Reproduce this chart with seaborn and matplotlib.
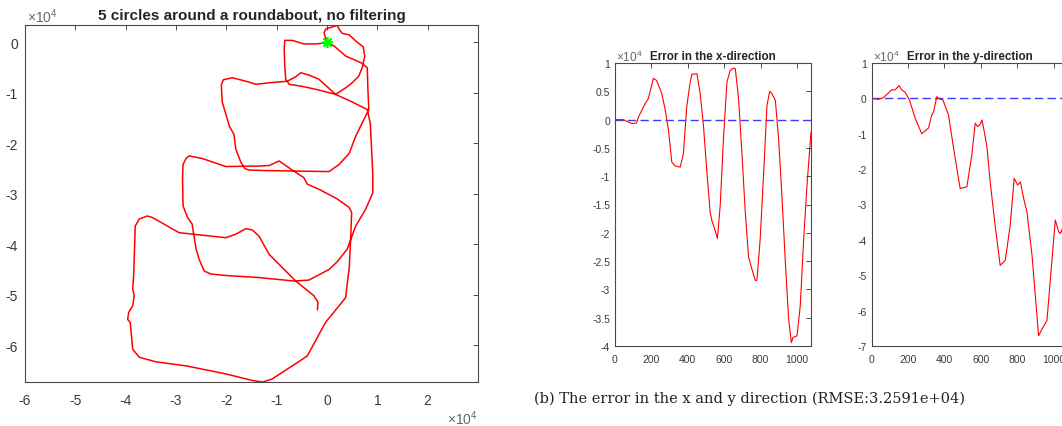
import matplotlib
matplotlib.use("Agg")
import matplotlib.pyplot as plt
import pandas as pd
import seaborn as sns

sns.set_style("white")
plt.rcParams['font.family'] = ['Liberation Sans', 'DejaVu Sans']
plt.rcParams['axes.unicode_minus'] = False
plt.rcParams['mathtext.fontset'] = 'custom'
plt.rcParams['mathtext.rm'] = 'Liberation Sans'

# Estimated trajectory (units of 1e4), in driving order
path_x = [0.00, -0.06, -0.02, 0.12, 0.20, 0.25, 0.30, 0.44, 0.57, 0.72, 0.75, 0.70, 0.63, 0.50, 0.37, 0.17,
          -0.22, -0.50, -0.75, -0.82, -0.84, -0.85, -0.84, -0.69, -0.46, -0.22, 0.00, 0.14, 0.37, 0.67, 0.80,
          0.81, 0.83, 0.57, 0.44, 0.24, 0.04, -0.60, -1.20, -1.55, -1.63, -1.71, -1.81, -1.85, -1.94, -2.00,
          -2.08, -2.10, -2.06, -1.88, -1.61, -1.41, -1.15, -0.79, -0.62, -0.52, -0.35, -0.16, 0.17, 0.50, 0.80,
          0.86, 0.89, 0.91, 0.91, 0.77, 0.57, 0.40, 0.20, 0.04, -0.13, -0.36, -0.65, -1.35, -2.00, -2.31, -2.44,
          -2.54, -2.60, -2.68, -2.77, -2.86, -2.87, -2.86, -2.80, -2.74, -2.48, -2.01, -1.35, -1.15, -0.95, -0.72,
          -0.46, -0.39, -0.16, 0.20, 0.44, 0.49, 0.47, 0.44, 0.42, 0.37, 0.24, -0.03, -0.39, -0.49, -0.89, -1.09,
          -1.28, -1.48, -2.01, -2.80, -3.40, -3.73, -3.86, -3.91, -3.96, -3.94, -3.86, -3.83, -3.86, -3.84, -3.83,
          -3.81, -3.73, -3.57, -3.47, -2.94, -2.67, -2.01, -1.81, -1.61, -1.48, -1.35, -1.15, -0.89, -0.62, -0.26,
          -0.18, -0.19]
path_y = [0.00, 0.19, 0.27, 0.31, 0.34, 0.25, 0.18, 0.15, 0.03, -0.09, -0.27, -0.50, -0.67, -0.80, -0.90, -1.03,
          -0.93, -0.87, -0.83, -0.73, -0.44, -0.15, 0.04, 0.04, -0.03, -0.03, -0.01, -0.07, -0.27, -0.40, -0.50,
          -0.86, -1.33, -1.86, -2.20, -2.42, -2.56, -2.55, -2.54, -2.53, -2.50, -2.38, -2.12, -1.82, -1.66, -1.45,
          -1.19, -0.85, -0.74, -0.70, -0.77, -0.83, -0.80, -0.77, -0.68, -0.60, -0.65, -0.73, -1.03, -1.18, -1.33,
          -1.60, -2.18, -2.60, -2.98, -3.30, -3.64, -4.10, -4.35, -4.50, -4.59, -4.71, -4.73, -4.66, -4.62, -4.59,
          -4.53, -4.30, -4.10, -3.60, -3.47, -3.24, -2.70, -2.42, -2.30, -2.25, -2.30, -2.46, -2.45, -2.44, -2.35,
          -2.51, -2.68, -2.81, -2.91, -3.10, -3.27, -3.37, -3.90, -4.50, -4.63, -5.06, -5.22, -5.55, -6.21, -6.28,
          -6.54, -6.67, -6.73, -6.70, -6.57, -6.41, -6.33, -6.24, -6.08, -5.55, -5.49, -5.35, -5.22, -5.02, -4.89,
          -4.60, -4.30, -3.64, -3.50, -3.44, -3.47, -3.77, -3.80, -3.87, -3.80, -3.69, -3.72, -3.84, -4.20, -4.46,
          -4.73, -5.02, -5.15, -5.30]

# Position error along x (units of 1e4) versus sample index
errx_t = [0, 46, 92, 119, 128, 165, 183, 211, 229, 257, 275, 294, 312, 330, 358, 376, 394, 413, 422, 450,
          468, 486, 505, 523, 532, 550, 563, 578, 596, 615, 633, 651, 661, 679, 697, 716, 734, 752, 771, 780,
          798, 817, 835, 850, 862, 881, 899, 917, 936, 954, 969, 978, 1000, 1018, 1037, 1055, 1077]
errx_v = [0.0, 0.0, -0.07, -0.06, 0.04, 0.28, 0.37, 0.73, 0.69, 0.46, 0.19, -0.19, -0.75, -0.82, -0.84, -0.60,
          0.22, 0.66, 0.80, 0.81, 0.46, -0.10, -0.93, -1.64, -1.78, -1.96, -2.10, -1.52, -0.34, 0.66, 0.87, 0.91,
          0.90, 0.37, -0.57, -1.64, -2.43, -2.64, -2.84, -2.84, -2.10, -0.93, 0.25, 0.50, 0.46, 0.34, -0.34,
          -1.34, -2.52, -3.52, -3.94, -3.85, -3.82, -3.29, -2.10, -1.16, -0.22]

# Position error along y (units of 1e4) versus sample index
erry_t = [0, 37, 64, 110, 128, 150, 165, 183, 207, 239, 275, 312, 330, 339, 358, 372, 391, 422, 450, 486,
          523, 550, 569, 582, 596, 606, 615, 633, 651, 679, 706, 734, 761, 783, 802, 817, 835, 853, 881, 899,
          917, 936, 963, 985, 1009, 1028, 1037, 1046, 1055, 1066, 1077]
erry_v = [0.0, -0.03, 0.02, 0.24, 0.24, 0.36, 0.24, 0.18, -0.04, -0.56, -1.00, -0.84, -0.47, -0.39, 0.05, -0.02,
          -0.04, -0.47, -1.41, -2.55, -2.50, -1.60, -0.70, -0.80, -0.73, -0.61, -0.84, -1.36, -2.36, -3.63, -4.72,
          -4.58, -3.59, -2.26, -2.45, -2.36, -2.83, -3.21, -4.44, -5.57, -6.71, -6.52, -6.28, -4.91, -3.44, -3.78,
          -3.82, -3.70, -4.10, -4.70, -5.30]

FIG_W, FIG_H = 1062, 427
AX_COLOR = '#4a4a4a'
LABEL_COLOR = '#3a3a3a'


def px_rect(left, top, right, bottom):
    return [left / FIG_W, 1 - bottom / FIG_H, (right - left) / FIG_W, (bottom - top) / FIG_H]


def style_axes(ax, fs, pad_x, pad_y):
    for s in ax.spines.values():
        s.set_color(AX_COLOR)
        s.set_linewidth(0.8)
    ax.tick_params(direction='in', top=True, right=True, length=3.5, width=0.7,
                   colors=AX_COLOR, labelsize=fs, labelcolor=LABEL_COLOR)
    ax.tick_params(axis='x', pad=pad_x)
    ax.tick_params(axis='y', pad=pad_y)
    ax.set_xlabel('')
    ax.set_ylabel('')


def fmt(v):
    return ('%g' % v)


fig = plt.figure(figsize=(FIG_W / 100, FIG_H / 100), dpi=100)

# Trajectory panel
ax = fig.add_axes(px_rect(25, 26, 478, 383))
traj = pd.DataFrame({'x': path_x, 'y': path_y})
sns.lineplot(data=traj, x='x', y='y', sort=False, estimator=None, color='red', lw=1.1, ax=ax)
ax.plot(path_x[:1], path_y[:1], ls='none', marker=(8, 2, 0), color=(0, 1, 0), ms=8, mew=1.2)
ax.set_xlim(-6, 3)
ax.set_ylim(-6.73, 0.345)
xt = list(range(-6, 3))
ax.set_xticks(xt)
ax.set_xticklabels([fmt(v) for v in xt])
yt = list(range(-6, 1))
ax.set_yticks(yt)
ax.set_yticklabels([fmt(v) for v in yt])
style_axes(ax, 10, 8, 5)
ax.set_title('5 circles around a roundabout, no filtering', fontsize=11, fontweight='bold', pad=4)
fig.text(27 / FIG_W, 1 - 23 / FIG_H, r'$\mathregular{\times10^{4}}$', fontsize=10, color='#666666', va='baseline')
fig.text(447 / FIG_W, 1 - 425 / FIG_H, r'$\mathregular{\times10^{4}}$', fontsize=10, color='#666666', va='baseline')

# Error panels
panels = [
    (615, errx_t, errx_v, 'Error in the x-direction', (-4, 1), [v * 0.5 for v in range(-8, 3)]),
    (871.7, erry_t, erry_v, 'Error in the y-direction', (-7, 1), list(range(-7, 2))),
]
for left, t, v, title, ylim, yticks in panels:
    axe = fig.add_axes(px_rect(left, 64, left + 196, 347))
    d = pd.DataFrame({'t': t, 'e': v})
    axe.axhline(0, color='#3d3dff', lw=1.0, dashes=(6, 3))
    sns.lineplot(data=d, x='t', y='e', sort=False, estimator=None, color='red', lw=0.8, ax=axe)
    axe.set_xlim(0, 1077)
    axe.set_ylim(*ylim)
    axe.set_xticks(range(0, 1001, 200))
    axe.set_xticklabels([fmt(x) for x in range(0, 1001, 200)])
    axe.set_yticks(yticks)
    axe.set_yticklabels([fmt(y) for y in yticks])
    style_axes(axe, 7.5, 6, 3.5)
    axe.set_title(title, fontsize=8.4, fontweight='bold', pad=3)
    fig.text((left + 1) / FIG_W, 1 - 62.5 / FIG_H, r'$\mathregular{\times10^{4}}$', fontsize=8.5,
             color='#666666', va='baseline')

fig.text(749 / FIG_W, 1 - 399 / FIG_H, '(b) The error in the x and y direction (RMSE:3.2591e+04)',
         family='DejaVu Serif', fontsize=10.5, color='#222222', ha='center', va='center')

fig.savefig('out.png', dpi=100)
